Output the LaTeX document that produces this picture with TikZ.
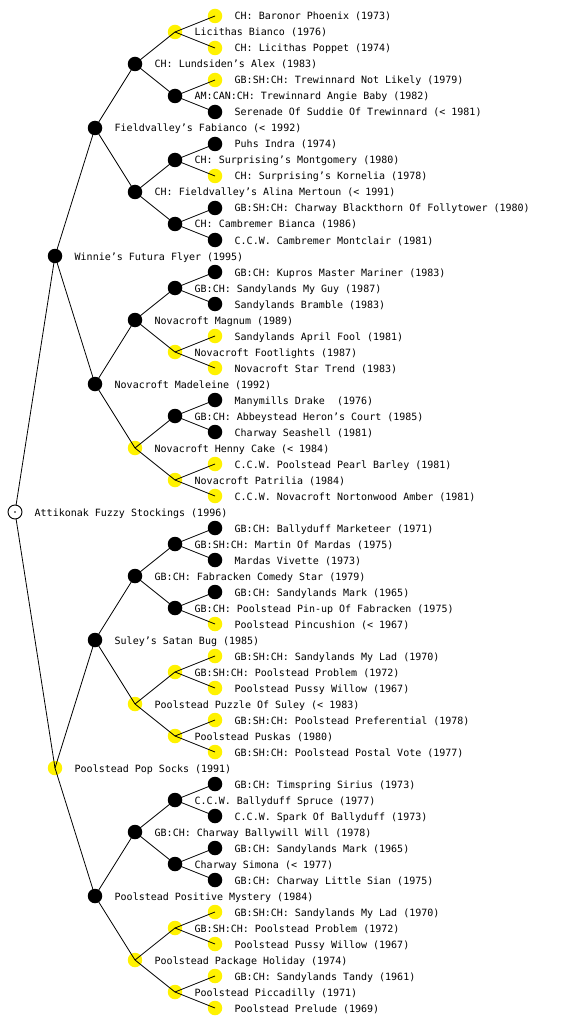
\documentclass[tikz,border=0pt]{standalone}
\usepackage{fontspec}
\setmonofont{DejaVu Sans Mono}
\begin{document}
\begin{tikzpicture}[x=1pt,y=-1pt,
  blk/.style={circle,fill=black,inner sep=0pt,minimum size=14.5pt},
  ylw/.style={circle,fill=yellow,inner sep=0pt,minimum size=14.5pt},
  rootnode/.style={circle,draw=black,fill=white,line width=0.9pt,inner sep=0pt,minimum size=14pt},
  lbl/.style={anchor=base west,inner sep=0pt,font=\ttfamily\fontsize{10}{12}\selectfont},
  edge/.style={line width=0.8pt,black}]
\useasboundingbox (0,0) rectangle (560,1024);
% level 1
\node[blk] (a1) at (55,256) {}; \node[lbl] (la1) at (74.5,260) {Winnie’s Futura Flyer (1995)};
\node[ylw] (a2) at (55,768) {}; \node[lbl] (la2) at (74.5,772) {Poolstead Pop Socks (1991)};
% level 2
\node[blk] (b1) at (95,128) {}; \node[lbl] (lb1) at (114.5,132) {Fieldvalley’s Fabianco (< 1992)};
\node[blk] (b2) at (95,384) {}; \node[lbl] (lb2) at (114.5,388) {Novacroft Madeleine (1992)};
\node[blk] (b3) at (95,640) {}; \node[lbl] (lb3) at (114.5,644) {Suley’s Satan Bug (1985)};
\node[blk] (b4) at (95,896) {}; \node[lbl] (lb4) at (114.5,900) {Poolstead Positive Mystery (1984)};
% level 3
\node[blk] (c1) at (135,64) {};  \node[lbl] (lc1) at (154.5,68) {CH: Lundsiden’s Alex (1983)};
\node[blk] (c2) at (135,192) {}; \node[lbl] (lc2) at (154.5,196) {CH: Fieldvalley’s Alina Mertoun (< 1991)};
\node[blk] (c3) at (135,320) {}; \node[lbl] (lc3) at (154.5,324) {Novacroft Magnum (1989)};
\node[ylw] (c4) at (135,448) {}; \node[lbl] (lc4) at (154.5,452) {Novacroft Henny Cake (< 1984)};
\node[blk] (c5) at (135,576) {}; \node[lbl] (lc5) at (154.5,580) {GB:CH: Fabracken Comedy Star (1979)};
\node[ylw] (c6) at (135,704) {}; \node[lbl] (lc6) at (154.5,708) {Poolstead Puzzle Of Suley (< 1983)};
\node[blk] (c7) at (135,832) {}; \node[lbl] (lc7) at (154.5,836) {GB:CH: Charway Ballywill Will (1978)};
\node[ylw] (c8) at (135,960) {}; \node[lbl] (lc8) at (154.5,964) {Poolstead Package Holiday (1974)};
% level 4
\node[ylw] (d1) at (175,32) {};  \node[lbl] (ld1) at (194.5,36) {Licithas Bianco (1976)};
\node[blk] (d2) at (175,96) {};  \node[lbl] (ld2) at (194.5,100) {AM:CAN:CH: Trewinnard Angie Baby (1982)};
\node[blk] (d3) at (175,160) {}; \node[lbl] (ld3) at (194.5,164) {CH: Surprising’s Montgomery (1980)};
\node[blk] (d4) at (175,224) {}; \node[lbl] (ld4) at (194.5,228) {CH: Cambremer Bianca (1986)};
\node[blk] (d5) at (175,288) {}; \node[lbl] (ld5) at (194.5,292) {GB:CH: Sandylands My Guy (1987)};
\node[ylw] (d6) at (175,352) {}; \node[lbl] (ld6) at (194.5,356) {Novacroft Footlights (1987)};
\node[blk] (d7) at (175,416) {}; \node[lbl] (ld7) at (194.5,420) {GB:CH: Abbeystead Heron’s Court (1985)};
\node[ylw] (d8) at (175,480) {}; \node[lbl] (ld8) at (194.5,484) {Novacroft Patrilia (1984)};
\node[blk] (d9) at (175,544) {}; \node[lbl] (ld9) at (194.5,548) {GB:SH:CH: Martin Of Mardas (1975)};
\node[blk] (d10) at (175,608) {}; \node[lbl] (ld10) at (194.5,612) {GB:CH: Poolstead Pin-up Of Fabracken (1975)};
\node[ylw] (d11) at (175,672) {}; \node[lbl] (ld11) at (194.5,676) {GB:SH:CH: Poolstead Problem (1972)};
\node[ylw] (d12) at (175,736) {}; \node[lbl] (ld12) at (194.5,740) {Poolstead Puskas (1980)};
\node[blk] (d13) at (175,800) {}; \node[lbl] (ld13) at (194.5,804) {C.C.W. Ballyduff Spruce (1977)};
\node[blk] (d14) at (175,864) {}; \node[lbl] (ld14) at (194.5,868) {Charway Simona (< 1977)};
\node[ylw] (d15) at (175,928) {}; \node[lbl] (ld15) at (194.5,932) {GB:SH:CH: Poolstead Problem (1972)};
\node[ylw] (d16) at (175,992) {}; \node[lbl] (ld16) at (194.5,996) {Poolstead Piccadilly (1971)};
% level 5
\node[ylw] (e1) at (215,16) {};   \node[lbl] (le1) at (234.5,20) {CH: Baronor Phoenix (1973)};
\node[ylw] (e2) at (215,48) {};   \node[lbl] (le2) at (234.5,52) {CH: Licithas Poppet (1974)};
\node[ylw] (e3) at (215,80) {};   \node[lbl] (le3) at (234.5,84) {GB:SH:CH: Trewinnard Not Likely (1979)};
\node[blk] (e4) at (215,112) {};  \node[lbl] (le4) at (234.5,116) {Serenade Of Suddie Of Trewinnard (< 1981)};
\node[blk] (e5) at (215,144) {};  \node[lbl] (le5) at (234.5,148) {Puhs Indra (1974)};
\node[ylw] (e6) at (215,176) {};  \node[lbl] (le6) at (234.5,180) {CH: Surprising’s Kornelia (1978)};
\node[blk] (e7) at (215,208) {};  \node[lbl] (le7) at (234.5,212) {GB:SH:CH: Charway Blackthorn Of Follytower (1980)};
\node[blk] (e8) at (215,240) {};  \node[lbl] (le8) at (234.5,244) {C.C.W. Cambremer Montclair (1981)};
\node[blk] (e9) at (215,272) {};  \node[lbl] (le9) at (234.5,276) {GB:CH: Kupros Master Mariner (1983)};
\node[blk] (e10) at (215,304) {}; \node[lbl] (le10) at (234.5,308) {Sandylands Bramble (1983)};
\node[ylw] (e11) at (215,336) {}; \node[lbl] (le11) at (234.5,340) {Sandylands April Fool (1981)};
\node[ylw] (e12) at (215,368) {}; \node[lbl] (le12) at (234.5,372) {Novacroft Star Trend (1983)};
\node[blk] (e13) at (215,400) {}; \node[lbl] (le13) at (234.5,404) {Manymills Drake\ \ (1976)};
\node[blk] (e14) at (215,432) {}; \node[lbl] (le14) at (234.5,436) {Charway Seashell (1981)};
\node[ylw] (e15) at (215,464) {}; \node[lbl] (le15) at (234.5,468) {C.C.W. Poolstead Pearl Barley (1981)};
\node[ylw] (e16) at (215,496) {}; \node[lbl] (le16) at (234.5,500) {C.C.W. Novacroft Nortonwood Amber (1981)};
\node[blk] (e17) at (215,528) {}; \node[lbl] (le17) at (234.5,532) {GB:CH: Ballyduff Marketeer (1971)};
\node[blk] (e18) at (215,560) {}; \node[lbl] (le18) at (234.5,564) {Mardas Vivette (1973)};
\node[blk] (e19) at (215,592) {}; \node[lbl] (le19) at (234.5,596) {GB:CH: Sandylands Mark (1965)};
\node[ylw] (e20) at (215,624) {}; \node[lbl] (le20) at (234.5,628) {Poolstead Pincushion (< 1967)};
\node[ylw] (e21) at (215,656) {}; \node[lbl] (le21) at (234.5,660) {GB:SH:CH: Sandylands My Lad (1970)};
\node[ylw] (e22) at (215,688) {}; \node[lbl] (le22) at (234.5,692) {Poolstead Pussy Willow (1967)};
\node[ylw] (e23) at (215,720) {}; \node[lbl] (le23) at (234.5,724) {GB:SH:CH: Poolstead Preferential (1978)};
\node[ylw] (e24) at (215,752) {}; \node[lbl] (le24) at (234.5,756) {GB:SH:CH: Poolstead Postal Vote (1977)};
\node[blk] (e25) at (215,784) {}; \node[lbl] (le25) at (234.5,788) {GB:CH: Timspring Sirius (1973)};
\node[blk] (e26) at (215,816) {}; \node[lbl] (le26) at (234.5,820) {C.C.W. Spark Of Ballyduff (1973)};
\node[blk] (e27) at (215,848) {}; \node[lbl] (le27) at (234.5,852) {GB:CH: Sandylands Mark (1965)};
\node[blk] (e28) at (215,880) {}; \node[lbl] (le28) at (234.5,884) {GB:CH: Charway Little Sian (1975)};
\node[ylw] (e29) at (215,912) {}; \node[lbl] (le29) at (234.5,916) {GB:SH:CH: Sandylands My Lad (1970)};
\node[ylw] (e30) at (215,944) {}; \node[lbl] (le30) at (234.5,948) {Poolstead Pussy Willow (1967)};
\node[ylw] (e31) at (215,976) {}; \node[lbl] (le31) at (234.5,980) {GB:CH: Sandylands Tandy (1961)};
\node[ylw] (e32) at (215,1008) {}; \node[lbl] (le32) at (234.5,1012) {Poolstead Prelude (1969)};
% root label
\node[lbl] (lr) at (34.5,516) {Attikonak Fuzzy Stockings (1996)};
% edges
\coordinate (rc) at (15,512);
\draw[edge] (rc) -- (a1.center);
\draw[edge] (rc) -- (a2.center);
\foreach \i in {1,2} {
  \pgfmathtruncatemacro\j{2*\i-1}\pgfmathtruncatemacro\k{2*\i}
  \draw[edge] (a\i.center) -- (b\j.center);
  \draw[edge] (a\i.center) -- (b\k.center);
}
\foreach \i in {1,...,4} {
  \pgfmathtruncatemacro\j{2*\i-1}\pgfmathtruncatemacro\k{2*\i}
  \draw[edge] (b\i.center) -- (c\j.center);
  \draw[edge] (b\i.center) -- (c\k.center);
}
\foreach \i in {1,...,8} {
  \pgfmathtruncatemacro\j{2*\i-1}\pgfmathtruncatemacro\k{2*\i}
  \draw[edge] (c\i.center) -- (d\j.center);
  \draw[edge] (c\i.center) -- (d\k.center);
}
\foreach \i in {1,...,16} {
  \pgfmathtruncatemacro\j{2*\i-1}\pgfmathtruncatemacro\k{2*\i}
  \draw[edge] (d\i.center) -- (e\j.center);
  \draw[edge] (d\i.center) -- (e\k.center);
}
% root node on top
\node[rootnode] (r) at (rc) {};
\fill (r.center) circle (0.9pt);
\end{tikzpicture}
\end{document}
